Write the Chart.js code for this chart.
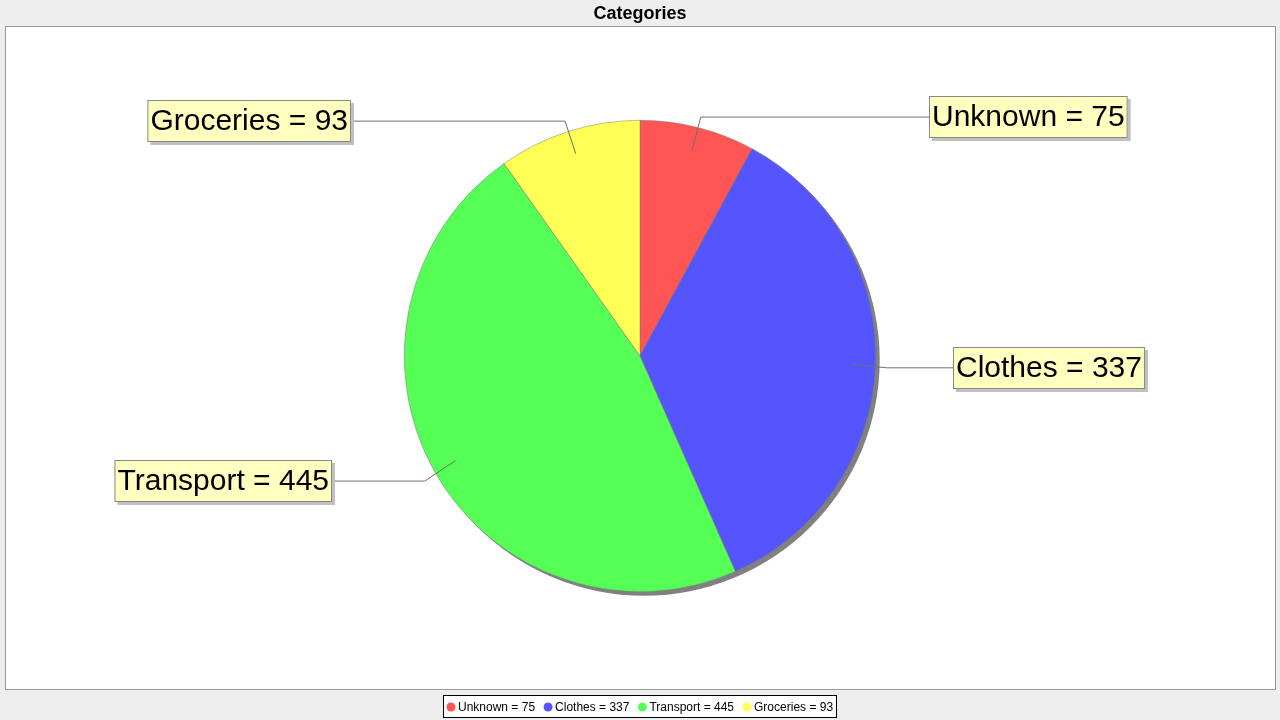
<!DOCTYPE html>
<html>
<head>
<meta charset="utf-8">
<script src="https://cdn.jsdelivr.net/npm/chart.js@4/dist/chart.umd.min.js"></script>
<style>
html,body{margin:0;padding:0;background:#eeeeee;}
canvas{display:block;}
</style>
</head>
<body>
<canvas id="c" width="1280" height="720"></canvas>
<script>
const categories = ["Unknown", "Clothes", "Transport", "Groceries"];
const values = [75, 337, 445, 93];
const colors = ["#FF5555", "#5555FF", "#55FF55", "#FFFF55"];
const chartTitle = "Categories";

// label box placement (layout only): side, x edge, small vertical nudge
const labelSides = ["right", "right", "left", "left"];
const labelEdgeX = [929, 953, 332, 351];
const labelNudgeY = [1, 2, 3, 1];

const labelText = categories.map((c, i) => c + " = " + values[i]);
const FONT = '"Liberation Sans", Arial, sans-serif';

const framePlugin = {
  id: 'frame',
  beforeDraw(chart) {
    const ctx = chart.ctx;
    ctx.save();
    ctx.fillStyle = '#eeeeee';
    ctx.fillRect(0, 0, 1280, 720);
    ctx.fillStyle = '#ffffff';
    ctx.fillRect(5, 26, 1270, 663);
    ctx.strokeStyle = '#999999';
    ctx.lineWidth = 1;
    ctx.strokeRect(5.5, 26.5, 1270, 663);
    ctx.fillStyle = '#000000';
    ctx.font = 'bold 18px ' + FONT;
    ctx.textAlign = 'center';
    ctx.textBaseline = 'middle';
    ctx.fillText(chartTitle, 640, 14);
    ctx.restore();
  },
  beforeDatasetsDraw(chart) {
    const meta = chart.getDatasetMeta(0);
    const arc = meta.data[0];
    const ctx = chart.ctx;
    ctx.save();
    ctx.fillStyle = '#808080';
    ctx.beginPath();
    ctx.arc(arc.x + 4, arc.y + 4, arc.outerRadius, 0, Math.PI * 2);
    ctx.fill();
    ctx.restore();
  },
  afterDatasetsDraw(chart) {
    const meta = chart.getDatasetMeta(0);
    const ctx = chart.ctx;
    ctx.save();
    ctx.font = '30px ' + FONT;
    ctx.textBaseline = 'middle';
    meta.data.forEach((arc, i) => {
      const mid = (arc.startAngle + arc.endAngle) / 2;
      const r = arc.outerRadius;
      const lx = arc.x + Math.cos(mid) * r * 0.9;
      const ly = arc.y + Math.sin(mid) * r * 0.9;
      const ex = arc.x + Math.cos(mid) * r * 1.05;
      const ey = arc.y + Math.sin(mid) * r * 1.05 + labelNudgeY[i];
      const text = labelText[i];
      const tw = ctx.measureText(text).width;
      const bw = tw + 6;
      const bh = 42;
      const bx = labelSides[i] === 'right' ? labelEdgeX[i] : labelEdgeX[i] - bw;
      const by = Math.round(ey - bh / 2);
      ctx.strokeStyle = '#707070';
      ctx.lineWidth = 1;
      ctx.beginPath();
      ctx.moveTo(lx, ly);
      ctx.lineTo(ex, ey);
      ctx.lineTo(labelSides[i] === 'right' ? bx : bx + bw, ey);
      ctx.stroke();
      ctx.fillStyle = '#c0c0c0';
      ctx.fillRect(bx + 3, by + 3, bw, bh);
      ctx.fillStyle = '#FFFFC0';
      ctx.fillRect(bx, by, bw, bh);
      ctx.strokeStyle = '#888888';
      ctx.strokeRect(bx + 0.5, by + 0.5, bw - 1, bh - 1);
      ctx.fillStyle = '#000000';
      ctx.textAlign = 'left';
      ctx.fillText(text, bx + 3, by + bh / 2 + 1);
    });
    ctx.restore();
  },
  afterDraw(chart) {
    const ctx = chart.ctx;
    ctx.save();
    ctx.font = '12px ' + FONT;
    ctx.textBaseline = 'middle';
    const items = labelText.map(t => ctx.measureText(t).width);
    const circ = 8, gapC = 3, gapItem = 9, padL = 4, padR = 4;
    let total = padL + padR;
    items.forEach((w, i) => { total += circ + gapC + w + (i < items.length - 1 ? gapItem : 0); });
    total = Math.round(total);
    const x0 = Math.round(640 - total / 2);
    const y0 = 695, h = 23;
    ctx.fillStyle = '#ffffff';
    ctx.fillRect(x0, y0, total, h);
    ctx.strokeStyle = '#000000';
    ctx.lineWidth = 1;
    ctx.strokeRect(x0 + 0.5, y0 + 0.5, total - 1, h - 1);
    let x = x0 + padL;
    const cy = y0 + h / 2 + 0.5;
    items.forEach((w, i) => {
      ctx.fillStyle = colors[i];
      ctx.beginPath();
      ctx.arc(x + circ / 2, cy, circ / 2 + 0.5, 0, Math.PI * 2);
      ctx.fill();
      x += circ + gapC;
      ctx.fillStyle = '#000000';
      ctx.textAlign = 'left';
      ctx.fillText(labelText[i], x, cy + 0.5);
      x += w + gapItem;
    });
    ctx.restore();
  }
};

new Chart(document.getElementById('c'), {
  type: 'pie',
  data: {
    labels: categories,
    datasets: [{
      data: values,
      backgroundColor: colors,
      borderColor: 'rgba(120,120,120,0.8)',
      borderWidth: 0.6,
      hoverOffset: 0
    }]
  },
  options: {
    responsive: false,
    animation: false,
    events: [],
    layout: { padding: { top: 120, bottom: 128, left: 0, right: 0 } },
    plugins: {
      legend: { display: false },
      title: { display: false },
      tooltip: { enabled: false }
    }
  },
  plugins: [framePlugin]
});
</script>
</body>
</html>
